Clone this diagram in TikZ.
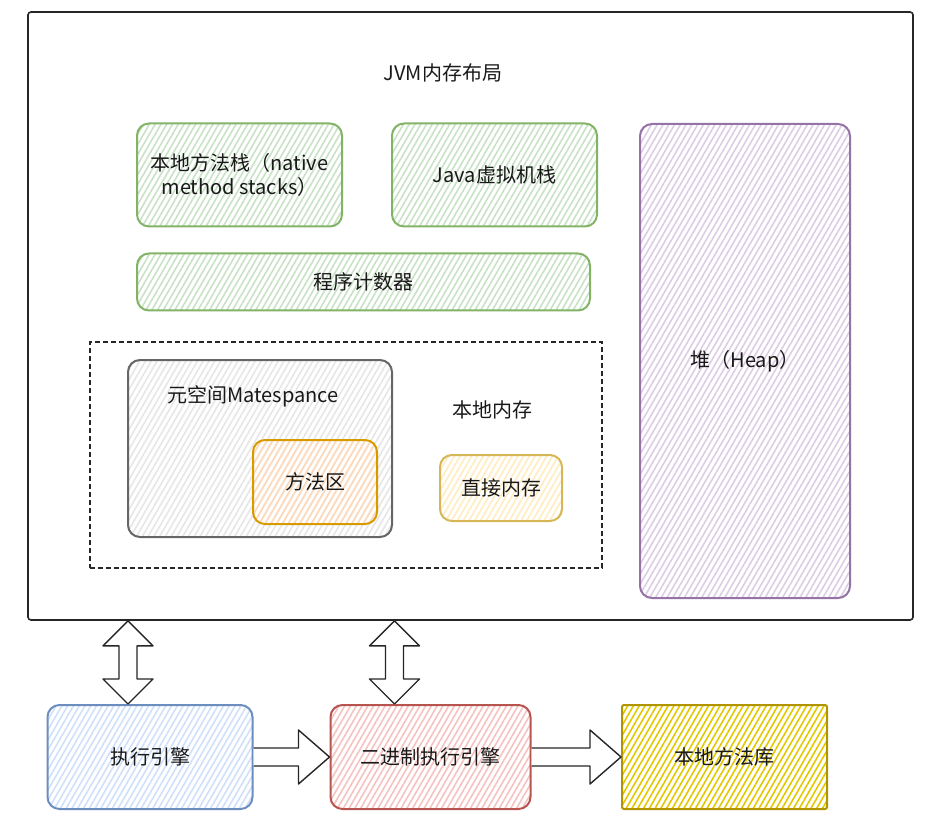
\documentclass[tikz,border=0pt]{standalone}
\usepackage{fontspec}
\setmainfont{Noto Sans CJK SC}
\usetikzlibrary{patterns.meta,calc}

\definecolor{greenline}{HTML}{82B366}
\definecolor{greenfill}{HTML}{C8E2C5}
\definecolor{purpleline}{HTML}{9673A6}
\definecolor{purplefill}{HTML}{DCCDE4}
\definecolor{grayline}{HTML}{666666}
\definecolor{grayfill}{HTML}{E6E6E6}
\definecolor{orangeline}{HTML}{D79B00}
\definecolor{orangefill}{HTML}{FFD9B8}
\definecolor{yellowline}{HTML}{D6B656}
\definecolor{yellowfill}{HTML}{FFEDC0}
\definecolor{blueline}{HTML}{6C8EBF}
\definecolor{bluefill}{HTML}{CFE0FA}
\definecolor{redline}{HTML}{B85450}
\definecolor{redfill}{HTML}{F5C2C0}
\definecolor{libline}{HTML}{B09500}
\definecolor{libfill}{HTML}{E3C800}

\tikzset{
	txt/.style = {text=black!90, font=\fontsize{20}{24}\selectfont, align=center},
	hatch/.style = {pattern={Lines[angle=60, distance=5pt, line width=1.6pt]}, pattern color=#1},
	box/.style = {txt, draw, line width=2pt, rounded corners=12pt, inner sep=2pt},
	greenbox/.style = {box, draw=greenline, hatch=greenfill},
	heapbox/.style = {box, draw=purpleline, hatch=purplefill},
	metabox/.style = {box, draw=grayline, hatch=grayfill},
	methodbox/.style = {box, draw=orangeline, hatch=orangefill},
	directbox/.style = {box, draw=yellowline, hatch=yellowfill},
	execbox/.style = {box, draw=blueline, hatch=bluefill},
	binbox/.style = {box, draw=redline, hatch=redfill},
	libbox/.style = {box, draw=libline, hatch=libfill, rounded corners=2pt},
	hollow/.style = {draw=black!85, line width=1.4pt, fill=white, line join=round},
}

\begin{document}
\begin{tikzpicture}[x=1pt, y=-1pt]
	\useasboundingbox (0,0) rectangle (946,813);

	% JVM frame
	\node[draw=black!85, line width=1.6pt, rounded corners=3pt, minimum width=885pt, minimum height=608pt] (jvm) at (470.5,316) {};
	\node[txt] (title) at (443,73) {JVM内存布局};

	% stacks and counter
	\node[greenbox, minimum width=205pt, minimum height=103pt] (native) at (239.5,175) {本地方法栈（native\\method stacks）};
	\node[greenbox, minimum width=205pt, minimum height=103pt] (jstack) at (494.5,175) {Java虚拟机栈};
	\node[greenbox, minimum width=453pt, minimum height=57pt] (pc) at (363.5,282) {程序计数器};

	% heap
	\node[heapbox, minimum width=210pt, minimum height=474pt] (heap) at (745,361) {堆（Heap）};

	% native memory
	\node[draw=black!85, line width=2pt, dash pattern=on 5pt off 3pt, minimum width=512pt, minimum height=226pt] (nativemem) at (346,455) {};
	\node[metabox, minimum width=264pt, minimum height=177pt] (meta) at (260,448.5) {};
	\node[txt] (metatext) at (253,396) {元空间Matespance};
	\node[methodbox, minimum width=124pt, minimum height=84pt] (method) at (315,482) {方法区};
	\node[txt] (nativetext) at (492,410) {本地内存};
	\node[directbox, minimum width=122pt, minimum height=66pt] (direct) at (501,488) {直接内存};

	% engines
	\node[execbox, minimum width=205pt, minimum height=104pt] (exec) at (150,757) {执行引擎};
	\node[binbox, minimum width=200pt, minimum height=104pt] (bin) at (430.5,757) {二进制执行引擎};
	\node[libbox, minimum width=205pt, minimum height=104pt] (lib) at (724.5,757) {本地方法库};

	% block arrows
	\coordinate (a1) at ([xshift=-22pt]exec.north);
	\coordinate (a2) at ([xshift=-36pt]bin.north);
	\foreach \a in {a1, a2}
		\draw[hollow] let \p1 = (\a |- jvm.south), \p2 = (\a) in
			(\x1,\y1) -- (\x1+25pt,\y1-25pt) -- (\x1+9pt,\y1-25pt) -- (\x1+9pt,\y2+25pt) -- (\x1+25pt,\y2+25pt) --
			(\x2,\y2) -- (\x1-25pt,\y2+25pt) -- (\x1-9pt,\y2+25pt) -- (\x1-9pt,\y1-25pt) -- (\x1-25pt,\y1-25pt) -- cycle;
	\foreach \s/\t in {exec/bin, bin/lib}
		\draw[hollow] let \p1 = (\s.east), \p2 = (\t.west) in
			(\x1,\y1+9pt) -- (\x2-31pt,\y1+9pt) -- (\x2-31pt,\y1+27pt) -- (\x2,\y1) --
			(\x2-31pt,\y1-27pt) -- (\x2-31pt,\y1-9pt) -- (\x1,\y1-9pt);
\end{tikzpicture}
\end{document}
